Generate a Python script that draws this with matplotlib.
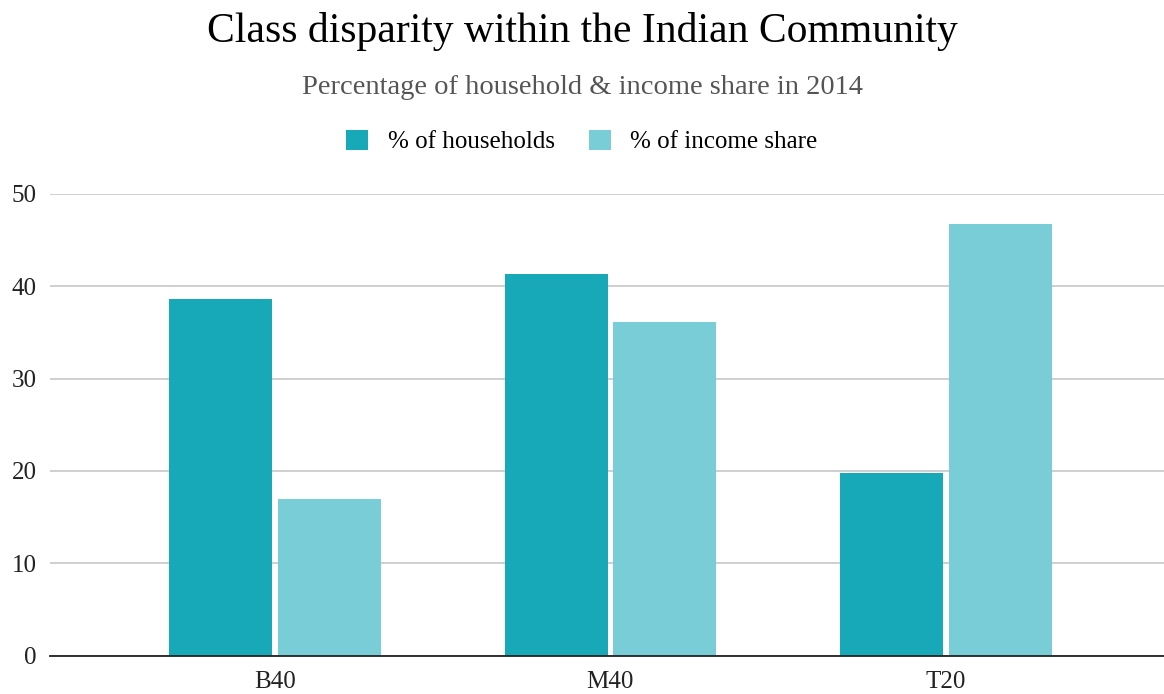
import matplotlib.pyplot as plt
import numpy as np

categories = ['B40', 'M40', 'T20']
households = [38.6, 41.3, 19.8]
income_share = [17.0, 36.1, 46.7]
series_names = ['% of households', '% of income share']
yticks = [0, 10, 20, 30, 40, 50]

c_house = '#17a9b8'
c_income = '#79cdd7'

plt.rcParams['font.family'] = ['Liberation Serif', 'DejaVu Serif']

fig = plt.figure(figsize=(11.64, 6.94), dpi=100)
ax = fig.add_axes([0.043, 0.055, 0.957, 0.666])

x = np.arange(len(categories))
w = 0.307
gap = 0.008
ax.bar(x - w / 2 - gap, households, w, color=c_house, label=series_names[0], zorder=3)
ax.bar(x + w / 2 + gap, income_share, w, color=c_income, label=series_names[1], zorder=3)

ax.set_xlim(-0.67, 2.65)
ax.set_ylim(0, 50)
ax.set_yticks(yticks)
ax.set_xticks(x)
ax.set_xticklabels(categories)
ax.yaxis.grid(True, color='#cccccc', linewidth=1.3, zorder=0)
ax.set_axisbelow(True)
for s in ['top', 'right', 'left']:
    ax.spines[s].set_visible(False)
ax.spines['bottom'].set_color('#222222')
ax.spines['bottom'].set_linewidth(1.3)
ax.spines['bottom'].set_zorder(4)
ax.tick_params(axis='both', length=0, labelsize=18, colors='#222222')
ax.tick_params(axis='y', pad=9.5)
ax.tick_params(axis='x', pad=11)

fig.text(0.5, 0.955, 'Class disparity within the Indian Community',
         ha='center', va='center', fontsize=30, color='#000000')
fig.text(0.5, 0.874, 'Percentage of household & income share in 2014',
         ha='center', va='center', fontsize=20.5, color='#555555')
fig.legend(loc='center', bbox_to_anchor=(0.5, 0.796), ncol=2, frameon=False,
           fontsize=18, handlelength=0.87, handleheight=0.87, columnspacing=1.35,
           handletextpad=0.8)

fig.savefig('out.png', dpi=100)
